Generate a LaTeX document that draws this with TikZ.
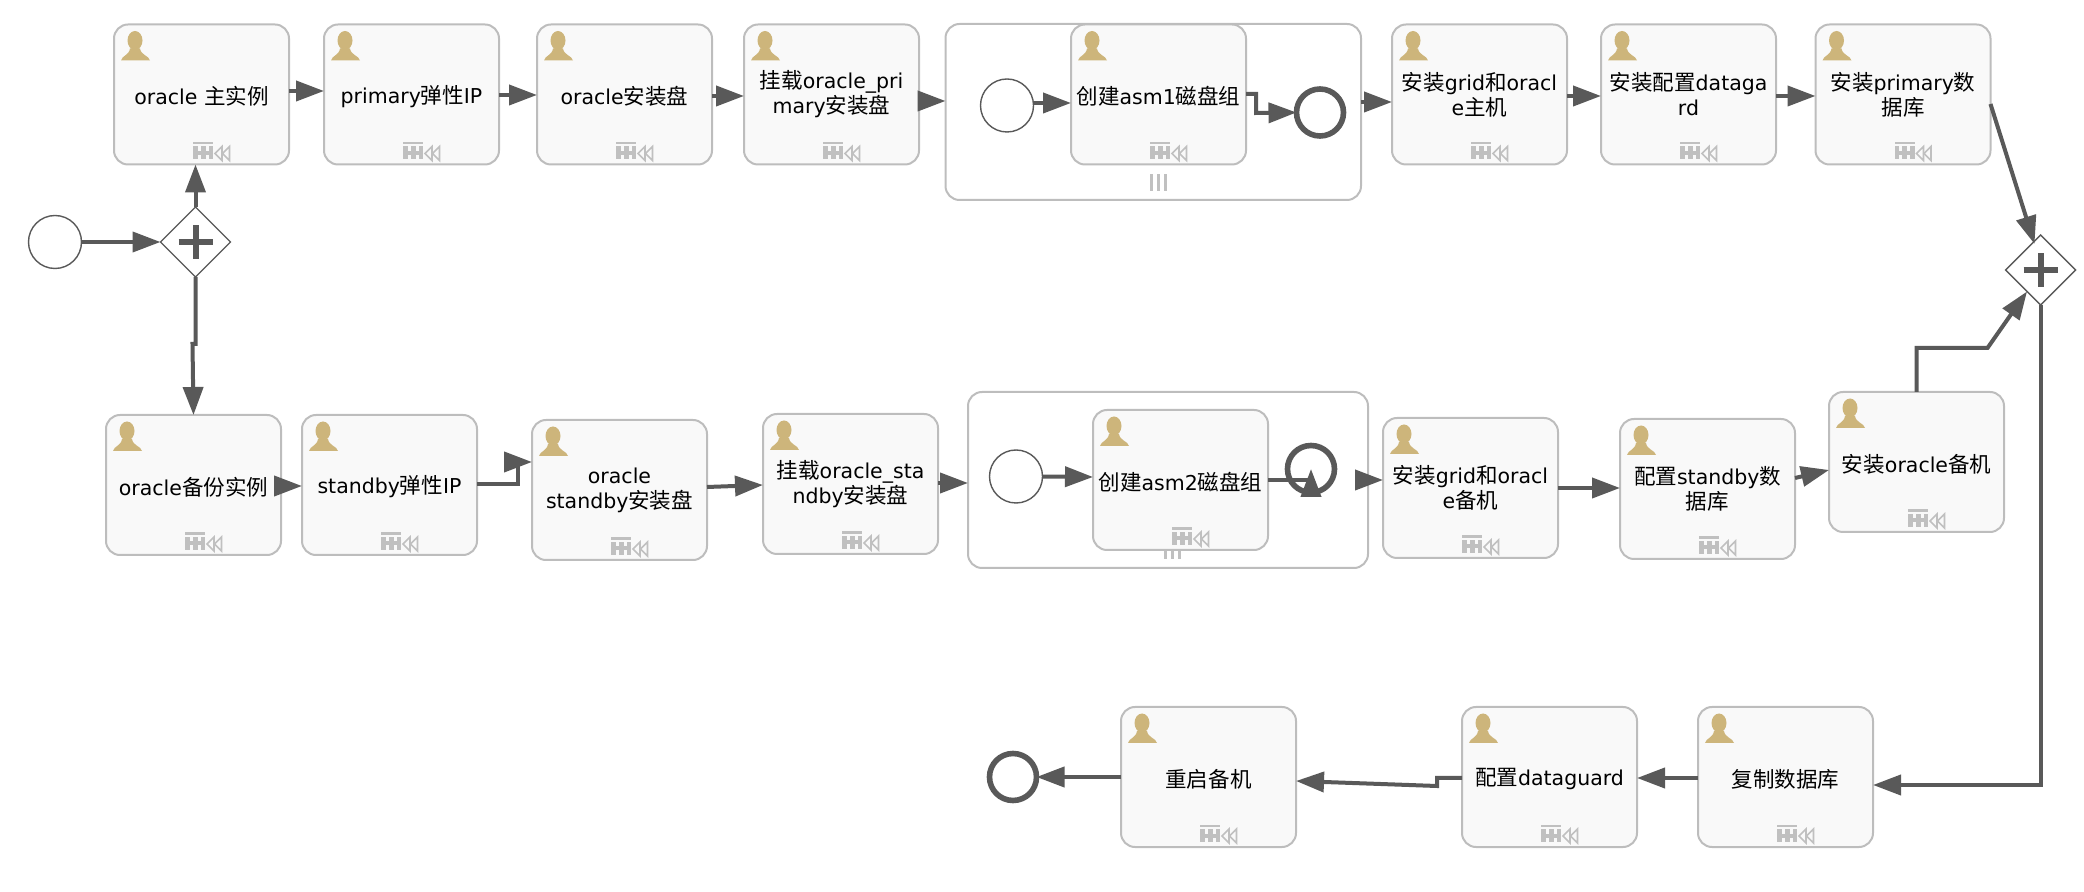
\documentclass[tikz,border=0pt]{standalone}
\usepackage{fontspec}
\setmainfont{DejaVu Sans}
\newfontfamily\cjk[Scale=1.05]{Noto Sans CJK SC}
\usetikzlibrary{arrows.meta,shapes.geometric}

\definecolor{flowgray}{HTML}{595959}
\definecolor{edgegray}{HTML}{BDBDBD}
\definecolor{taskfill}{HTML}{F9F9F9}
\definecolor{usergold}{HTML}{CDB57B}
\definecolor{markgray}{HTML}{C0C0C0}

\tikzset{
	every node/.style={outer sep=0pt},
	task/.style={draw=edgegray, line width=1pt, fill=taskfill, rounded corners=7pt,
		minimum width=87.5pt, minimum height=70pt, inner sep=0pt, align=center,
		font=\fontsize{10.25pt}{12.5pt}\selectfont,
		execute at begin node={\rule{0pt}{11pt}}},
	subproc/.style={draw=edgegray, line width=1pt, fill=white, rounded corners=7pt, inner sep=0pt},
	startev/.style={draw=flowgray, line width=0.7pt, circle, fill=white, minimum size=26.5pt, inner sep=0pt},
	endev/.style={draw=flowgray, line width=2.8pt, circle, fill=white, minimum size=23.5pt, inner sep=0pt},
	gateway/.style={draw=flowgray, line width=0.7pt, diamond, aspect=1, fill=white, minimum size=35pt, inner sep=0pt},
	flow/.style={draw=flowgray, line width=2pt, -{Triangle[length=14pt,width=10pt]}},
	usericon/.pic={
		\fill[usergold] (7,36) .. controls (8,31) and (15,31) .. (16,24) -- (26,24)
			.. controls (27,31) and (35,31) .. (36,36) -- cycle;
		\fill[usergold] (21,16) ellipse (3.75pt and 4.75pt);
	},
	tableicon/.pic={
		\fill[markgray] (79,-22.5) rectangle (99,-20);
		\fill[markgray] (79,-18) rectangle (99,-5);
		\foreach \hx in {83.5,91.5}{
			\foreach \hy in {-18,-9.5}{
				\fill[taskfill] (\hx,\hy) rectangle ++(3,4.5);
			}
		}
		\draw[markgray, line width=0.8pt] (108,-18) -- (101,-11) -- (108,-4) -- cycle;
		\draw[markgray, line width=0.8pt] (115.5,-18) -- (108.5,-11) -- (115.5,-4) -- cycle;
	}
}

\begin{document}
\begin{tikzpicture}[x=0.5pt,y=-0.5pt]
	
	\useasboundingbox (0,0) rectangle (2084,892);
	
	% Sub processes
	\node[subproc, minimum width=207.75pt, minimum height=88pt] (subOne) at (1153.25,112) {};
	\node[subproc, minimum width=200pt, minimum height=88pt] (subTwo) at (1168,480) {};
	\foreach \s/\m in {subOne/2.5,subTwo/2}{
		\foreach \b in {-7,0,7}{
			\fill[markgray] ([xshift=\m*1pt+\b*0.5pt-0.75pt,yshift=4.5pt]\s.south) rectangle ++(3,-17);
		}
	}
	
	% Top row
	\node[task] (mainInst) at (201.5,94.5) {oracle {\cjk 主实例}};
	\node[task] (primaryIp) at (411.5,94.5) {primary{\cjk 弹性}IP};
	\node[task] (oracleDisk) at (624.5,94.5) {oracle{\cjk 安装盘}};
	\node[task] (mountPrimary) at (831.5,94.5) {{\cjk 挂载}oracle\_pri\\mary{\cjk 安装盘}};
	\node[task] (asmOne) at (1158.5,94.5) {{\cjk 创建}asm1{\cjk 磁盘组}};
	\node[task] (gridMain) at (1479.5,94.5) {{\cjk 安装}grid{\cjk 和}oracl\\e{\cjk 主机}};
	\node[task] (setupGuard) at (1688.5,94.5) {{\cjk 安装配置}dataga\\rd};
	\node[task] (primaryDb) at (1903,94.5) {{\cjk 安装}primary{\cjk 数}\\{\cjk 据库}};
	
	% Middle row
	\node[task] (backupInst) at (193.5,485) {oracle{\cjk 备份实例}};
	\node[task] (standbyIp) at (389.5,485) {standby{\cjk 弹性}IP};
	\node[task] (standbyDisk) at (619.5,490) {oracle\\standby{\cjk 安装盘}};
	\node[task] (mountStandby) at (850.5,484) {{\cjk 挂载}oracle\_sta\\ndby{\cjk 安装盘}};
	\node[task] (asmTwo) at (1180.5,480) {{\cjk 创建}asm2{\cjk 磁盘组}};
	\node[task] (gridStandby) at (1470.5,488) {{\cjk 安装}grid{\cjk 和}oracl\\e{\cjk 备机}};
	\node[task] (standbyDb) at (1707.5,489) {{\cjk 配置}standby{\cjk 数}\\{\cjk 据库}};
	\node[task] (oracleStandby) at (1916.5,462) {{\cjk 安装}oracle{\cjk 备机}};
	
	% Bottom row
	\node[task] (copyDb) at (1785.5,777) {{\cjk 复制数据库}};
	\node[task] (guardConf) at (1549.5,777) {{\cjk 配置}dataguard};
	\node[task] (restartStandby) at (1208.5,777) {{\cjk 重启备机}};
	
	% Icons
	\foreach \t in {mainInst,primaryIp,oracleDisk,mountPrimary,asmOne,gridMain,setupGuard,primaryDb,
		backupInst,standbyIp,standbyDisk,mountStandby,asmTwo,gridStandby,standbyDb,oracleStandby,
		copyDb,guardConf,restartStandby}{
		\pic at (\t.north west) {usericon};
		\pic at (\t.south west) {tableicon};
	}
	
	% Events
	\node[startev] (startMain) at (55,242) {};
	\node[startev] (startOne) at (1007,105.5) {};
	\node[endev] (endOne) at (1320,112.5) {};
	\node[startev] (startTwo) at (1016,476.5) {};
	\node[endev] (endTwo) at (1311,469) {};
	\node[endev] (endMain) at (1013,777) {};
	
	% Gateways
	\node[gateway] (gwOpen) at (195.5,242) {};
	\node[gateway] (gwJoin) at (2040.5,270) {};
	\foreach \g in {gwOpen,gwJoin}{
		\draw[flowgray, line width=3pt] ([xshift=-8.5pt]\g.center) -- ([xshift=8.5pt]\g.center);
		\draw[flowgray, line width=3pt] ([yshift=-8.5pt]\g.center) -- ([yshift=8.5pt]\g.center);
	}
	
	% Flows top row
	\draw[flow] (startMain) -- (gwOpen.west);
	\draw[flow] (gwOpen.north) -- (gwOpen.north |- mainInst.south);
	\draw[flow] (mainInst.east |- 0,91) -- (primaryIp.west |- 0,91);
	\draw[flow] (primaryIp.east |- 0,95) -- (oracleDisk.west |- 0,95);
	\draw[flow] (oracleDisk.east |- 0,96) -- (mountPrimary.west |- 0,96);
	\draw[flow] (mountPrimary.east |- 0,101) -- (subOne.west |- 0,101);
	\draw[flow] (startOne.east |- 0,103) -- (asmOne.west |- 0,103);
	\draw[flow] (asmOne.east |- 0,94) -- ++(10,0) -- ++(0,19) -- (endOne.west);
	\draw[flow] (subOne.east |- 0,102) -- (gridMain.west |- 0,102);
	\draw[flow] (gridMain.east |- 0,96) -- (setupGuard.west |- 0,96);
	\draw[flow] (setupGuard.east |- 0,96) -- (primaryDb.west |- 0,96);
	\draw[flow] (primaryDb.east |- 0,104) -- ([xshift=-3pt,yshift=-4.5pt]gwJoin.north);
	
	% Flows middle row
	\draw[flow] (gwOpen.south) -- ++(0,67) -- ++(-3,0) -- (backupInst.north);
	\draw[flow] (backupInst.east |- 0,486) -- (standbyIp.west |- 0,486);
	\draw[flow] (standbyIp.east |- 0,484) -- ++(41,0) -- ++(0,-22) -- (standbyDisk.west |- 0,462);
	\draw[flow] (standbyDisk.east |- 0,487) -- (mountStandby.west |- 0,485);
	\draw[flow] (mountStandby.east |- 0,483) -- (subTwo.west |- 0,483);
	\draw[flow] (startTwo.east) -- (asmTwo.west |- 0,477);
	\draw[flow] (asmTwo.east) -- ++(43,0) -- ++(0,16) -- (endTwo.center);
	\draw[flow] (subTwo.east) -- (gridStandby.west |- subTwo.east);
	\draw[flow] (gridStandby.east) -- (standbyDb.west |- gridStandby.east);
	\draw[flow] (standbyDb.east |- 0,478) -- (oracleStandby.west |- 0,470);
	\draw[flow] (oracleStandby.north) -- ++(0,-44) -- ++(71,0) -- ([xshift=2pt,yshift=-2pt]gwJoin.south west);
	
	% Flows bottom row
	\draw[flow] (gwJoin.south) -- (gwJoin.south |- 0,785) -- (copyDb.east |- 0,785);
	\draw[flow] (copyDb.west |- 0,778) -- (guardConf.east |- 0,778);
	\draw[flow] (guardConf.west |- 0,778) -- ++(-25,0) -- ++(0,8) -- (restartStandby.east |- 0,781);
	\draw[flow] (restartStandby.west) -- (endMain.east);
	
\end{tikzpicture}
\end{document}
